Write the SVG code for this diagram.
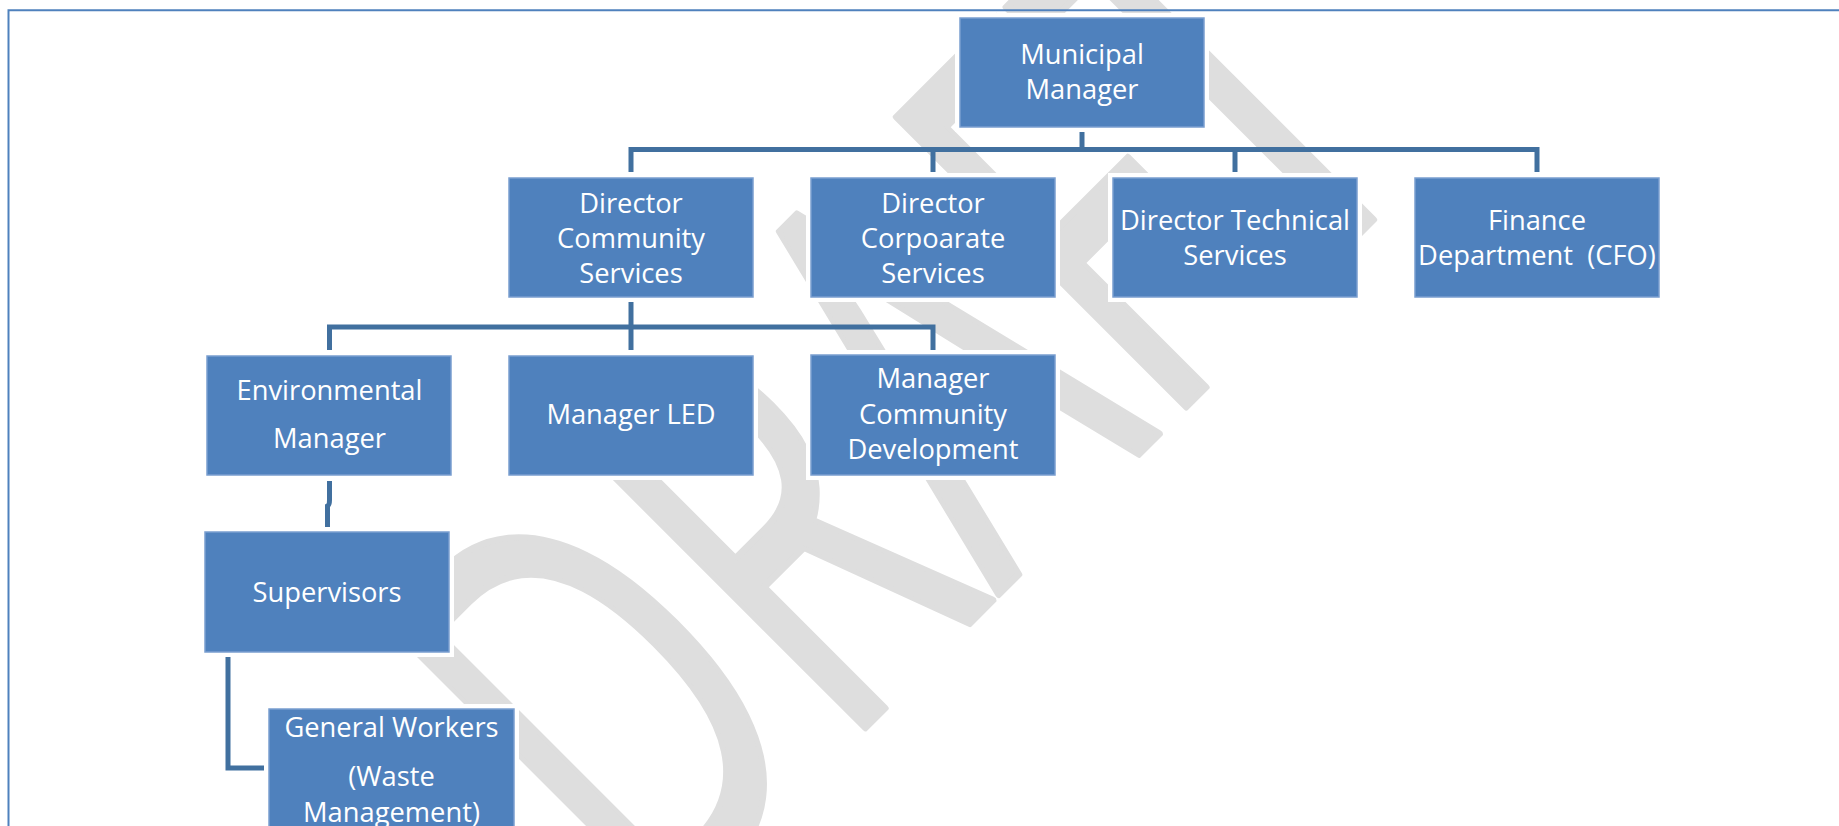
<svg xmlns="http://www.w3.org/2000/svg" width="1839" height="826" viewBox="0 0 1839 826">
  <style>
    .box { fill: #4f81bd; stroke: #7a9ed0; stroke-width: 1.5; }
    .halo { fill: #ffffff; }
    .lbl { font-family: "Open Sans", "Liberation Sans", sans-serif; font-size: 27.3px; fill: #ffffff; text-anchor: middle; }
    .wire { fill: none; stroke: #41709f; stroke-width: 5; stroke-linecap: butt; stroke-linejoin: miter; }
    .mark { font-family: "Open Sans", "Liberation Sans", sans-serif; font-size: 400px; fill: #dedede; stroke: #dedede; stroke-width: 6; stroke-linejoin: round; }
  </style>

  <rect width="1839" height="826" fill="#ffffff"/>

  <!-- background watermark -->
  <g id="watermark">
    <text class="mark" x="0" y="0" textLength="1105" lengthAdjust="spacingAndGlyphs" vector-effect="non-scaling-stroke" transform="translate(653,940) rotate(-45) scale(1,1.435)">DRAFT</text>
  </g>

  <!-- page frame -->
  <path d="M8.5,826 V10.2 H1839" fill="none" stroke="#4f81bd" stroke-width="2"/>

  <!-- connectors -->
  <g id="connectors">
    <path class="wire" d="M1082,132 V149.5"/>
    <path class="wire" d="M631,172 V149.5 H1537 V172"/>
    <path class="wire" d="M933,149.5 V172"/>
    <path class="wire" d="M1235,149.5 V172"/>
    <path class="wire" d="M631,302 V350"/>
    <path class="wire" d="M329.5,350 V327 H933 V350"/>
    <path class="wire" d="M329.5,481 V500 Q329.5,505 327.5,506 V527"/>
    <path class="wire" d="M228,657 V768 H264"/>
  </g>

  <!-- nodes -->
  <g id="municipal-manager">
    <rect class="halo" x="955" y="13" width="254" height="119"/>
    <rect class="box" x="960" y="18" width="244" height="109"/>
    <text class="lbl" x="1082" y="63.5">Municipal</text>
    <text class="lbl" x="1082" y="99">Manager</text>
  </g>

  <g id="director-community-services">
    <rect class="halo" x="504" y="173" width="254" height="129"/>
    <rect class="box" x="509" y="178" width="244" height="119"/>
    <text class="lbl" x="631" y="212.5">Director</text>
    <text class="lbl" x="631" y="247.5">Community</text>
    <text class="lbl" x="631" y="282.5">Services</text>
  </g>

  <g id="director-corporate-services">
    <rect class="halo" x="806" y="173" width="254" height="129"/>
    <rect class="box" x="811" y="178" width="244" height="119"/>
    <text class="lbl" x="933" y="212.5">Director</text>
    <text class="lbl" x="933" y="247.5">Corpoarate</text>
    <text class="lbl" x="933" y="282.5">Services</text>
  </g>

  <g id="director-technical-services">
    <rect class="halo" x="1108" y="173" width="254" height="129"/>
    <rect class="box" x="1113" y="178" width="244" height="119"/>
    <text class="lbl" x="1235" y="230" textLength="230" lengthAdjust="spacingAndGlyphs">Director Technical</text>
    <text class="lbl" x="1235" y="264.5">Services</text>
  </g>

  <g id="finance-department">
    <rect class="halo" x="1410" y="173" width="254" height="129"/>
    <rect class="box" x="1415" y="178" width="244" height="119"/>
    <text class="lbl" x="1537" y="230">Finance</text>
    <text class="lbl" x="1537" y="265" xml:space="preserve">Department  (CFO)</text>
  </g>

  <g id="environmental-manager">
    <rect class="halo" x="202" y="351" width="254" height="129"/>
    <rect class="box" x="207" y="356" width="244" height="119"/>
    <text class="lbl" x="329.5" y="400">Environmental</text>
    <text class="lbl" x="329.5" y="448">Manager</text>
  </g>

  <g id="manager-led">
    <rect class="halo" x="504" y="351" width="254" height="129"/>
    <rect class="box" x="509" y="356" width="244" height="119"/>
    <text class="lbl" x="631" y="423.5">Manager LED</text>
  </g>

  <g id="manager-community-development">
    <rect class="halo" x="806" y="350" width="254" height="130"/>
    <rect class="box" x="811" y="355" width="244" height="120"/>
    <text class="lbl" x="933" y="388">Manager</text>
    <text class="lbl" x="933" y="423.5">Community</text>
    <text class="lbl" x="933" y="459">Development</text>
  </g>

  <g id="supervisors">
    <rect class="halo" x="200" y="527" width="254" height="130"/>
    <rect class="box" x="205" y="532" width="244" height="120"/>
    <text class="lbl" x="327" y="601.5">Supervisors</text>
  </g>

  <g id="general-workers">
    <rect class="halo" x="264" y="704" width="255" height="140"/>
    <rect class="box" x="269" y="709" width="245" height="130"/>
    <text class="lbl" x="391.5" y="736.5">General Workers</text>
    <text class="lbl" x="391.5" y="786">(Waste</text>
    <text class="lbl" x="391.5" y="821.5">Management)</text>
  </g>
</svg>
